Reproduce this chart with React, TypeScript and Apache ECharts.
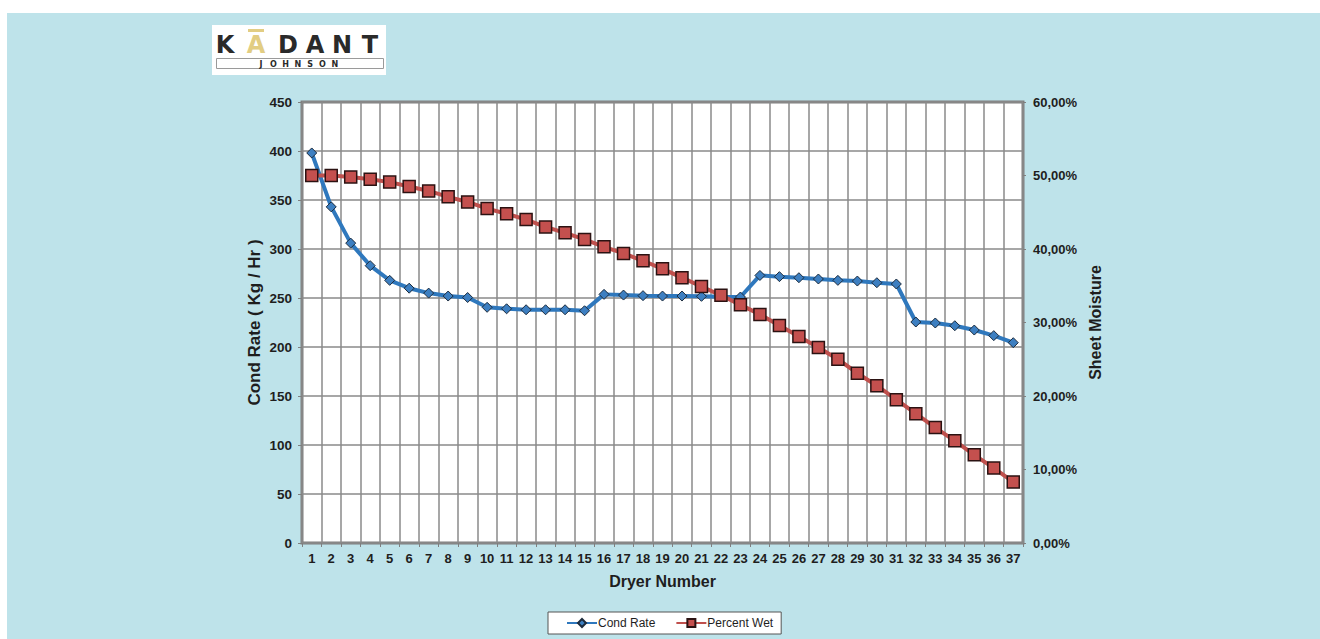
import React, { useEffect, useRef } from "react";
import * as echarts from "echarts";

// Dryer section: condensate rate per dryer and sheet moisture along the section
const dryers: string[] = Array.from({ length: 37 }, (_, i) => String(i + 1));

const condRate: number[] = [
  398, 343, 306, 283, 268, 260, 255, 252, 250.5, 240.5,
  239, 238, 238, 238, 237, 253.7, 253, 252.4, 252, 252,
  251.7, 251.3, 251, 273, 271.8, 270.7, 269.4, 268, 267.3, 265.6,
  264.3, 225.5, 224.5, 221.7, 217.3, 211.6, 204.4,
];

const percentWet: number[] = [
  50.0, 50.0, 49.8, 49.5, 49.1, 48.5, 47.9, 47.1, 46.4, 45.5,
  44.8, 44.0, 43.0, 42.2, 41.3, 40.3, 39.4, 38.4, 37.3, 36.1,
  34.9, 33.7, 32.4, 31.1, 29.6, 28.1, 26.6, 25.0, 23.1, 21.4,
  19.5, 17.6, 15.7, 13.9, 12.0, 10.2, 8.3,
];

const logoLetters: string[] = ["K", "A", "D", "A", "N", "T"];
const logoSubLetters: string[] = ["J", "O", "H", "N", "S", "O", "N"];

const FONT = "'Liberation Sans', Arial, sans-serif";
const LOGO_FONT = "'DejaVu Sans', sans-serif";
const TEXT = "#1e1e1e";

function buildLogo(): any[] {
  const letterX = [218, 249, 281, 308, 335, 363];
  const items: any[] = [
    { type: "rect", shape: { x: 205, y: 12, width: 174, height: 50 }, style: { fill: "#ffffff" } },
    { type: "rect", shape: { x: 241, y: 16, width: 16, height: 3 }, style: { fill: "#e2cd83" } },
    {
      type: "rect",
      shape: { x: 209.5, y: 45.5, width: 167, height: 10 },
      style: { fill: "#ffffff", stroke: "#9a9a9a", lineWidth: 1 },
    },
  ];
  logoLetters.forEach((ch, i) => {
    items.push({
      type: "text",
      x: letterX[i],
      y: 32,
      style: {
        text: ch,
        fill: i === 1 ? "#e2cd83" : "#2a2a2a",
        font: `bold 24px ${LOGO_FONT}`,
        textAlign: "center",
        textVerticalAlign: "middle",
      },
    });
  });
  logoSubLetters.forEach((ch, i) => {
    items.push({
      type: "text",
      x: 254 + i * 12.3,
      y: 51,
      style: {
        text: ch,
        fill: "#2a2a2a",
        font: `bold 8px ${LOGO_FONT}`,
        textAlign: "center",
        textVerticalAlign: "middle",
      },
    });
  });
  return items;
}

export default function App() {
  const ref = useRef<HTMLDivElement>(null);

  useEffect(() => {
    if (!ref.current) return;
    const chart = echarts.init(ref.current, undefined, { renderer: "svg" });
    const labelStyle = { color: TEXT, fontFamily: FONT, fontWeight: "bold" as const, fontSize: 13 };
    const nameStyle = { color: TEXT, fontFamily: FONT, fontWeight: "bold" as const, fontSize: 16 };
    chart.setOption({
      animation: false,
      backgroundColor: "#bee3ea",
      graphic: buildLogo(),
      grid: {
        left: 295,
        top: 89,
        width: 721,
        height: 441,
        show: true,
        backgroundColor: "#ffffff",
        borderColor: "#7f7f7f",
        borderWidth: 3,
      },
      legend: {
        left: 541,
        top: 599,
        backgroundColor: "#ffffff",
        borderColor: "#555555",
        borderWidth: 1,
        borderRadius: 0,
        padding: [5, 8, 5, 18],
        itemGap: 20,
        itemWidth: 30,
        itemHeight: 10,
        textStyle: { color: TEXT, fontFamily: FONT, fontSize: 12, padding: [0, 0, 0, -4] },
        data: ["Cond Rate", "Percent Wet"],
      },
      xAxis: {
        type: "category",
        data: dryers,
        boundaryGap: true,
        name: "Dryer Number",
        nameLocation: "middle",
        nameGap: 30,
        nameTextStyle: nameStyle,
        axisLine: { show: false },
        axisTick: { show: true, length: 4, lineStyle: { color: "#7f7f7f" } },
        axisLabel: { ...labelStyle, interval: 0, margin: 9 },
        splitLine: { show: true, interval: 0, lineStyle: { color: "#8a8a8a", width: 1.5 } },
      },
      yAxis: [
        {
          type: "value",
          min: 0,
          max: 450,
          interval: 50,
          name: "Cond Rate ( Kg / Hr )",
          nameLocation: "middle",
          nameGap: 39,
          nameMoveOverlap: false,
          nameRotate: 90,
          nameTextStyle: { ...nameStyle, fontSize: 17 },
          axisLine: { show: false },
          axisTick: { show: true, length: 4, lineStyle: { color: "#7f7f7f" } },
          axisLabel: { ...labelStyle, margin: 10, fontSize: 13.5 },
          splitLine: { show: true, lineStyle: { color: "#8a8a8a", width: 1.5 } },
        },
        {
          type: "value",
          min: 0,
          max: 60,
          interval: 10,
          position: "right",
          name: "Sheet Moisture",
          nameLocation: "middle",
          nameGap: 62,
          nameRotate: 90,
          nameTextStyle: nameStyle,
          axisLine: { show: false },
          axisTick: { show: true, length: 3, lineStyle: { color: "#7f7f7f" } },
          axisLabel: {
            ...labelStyle,
            margin: 10,
            formatter: (v: number) => v.toFixed(2).replace(".", ",") + "%",
          },
          splitLine: { show: false },
        },
      ],
      series: [
        {
          name: "Cond Rate",
          type: "line",
          yAxisIndex: 0,
          data: condRate,
          symbol: "diamond",
          symbolSize: 10,
          lineStyle: { color: "#2f78bd", width: 4 },
          itemStyle: { color: "#3d7fc1", borderColor: "#1c2b3c", borderWidth: 1 },
        },
        {
          name: "Percent Wet",
          type: "line",
          yAxisIndex: 1,
          data: percentWet,
          symbol: "rect",
          symbolSize: 12,
          lineStyle: { color: "#c0504d", width: 4 },
          itemStyle: { color: "#c4504e", borderColor: "#2b1212", borderWidth: 1.5 },
        },
      ],
    });
    return () => chart.dispose();
  }, []);

  return (
    <div
      ref={ref}
      style={{ position: "absolute", left: 7, top: 13, width: 1313, height: 626 }}
    />
  );
}
